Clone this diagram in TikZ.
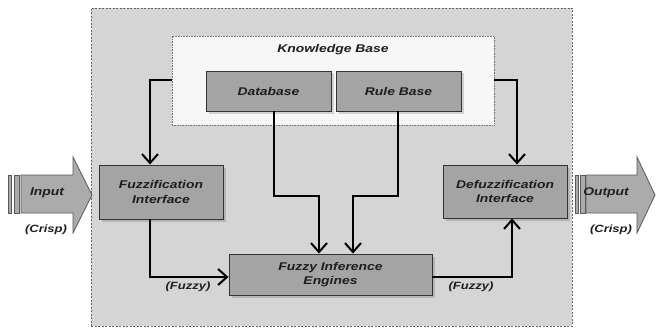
\documentclass[tikz,border=0pt]{standalone}
\usepackage{fontspec}
\newfontfamily\lab{Liberation Sans}[FakeStretch=1.24]
\usetikzlibrary{arrows.meta,calc,shadows}
\definecolor{bgc}{HTML}{D5D5D5}
\definecolor{boxc}{HTML}{A4A4A4}
\definecolor{kbc}{HTML}{F7F7F7}
\definecolor{txtc}{HTML}{1E1E1E}
\tikzset{
  txt/.style={font=\lab\bfseries\itshape\fontsize{11.2}{14.3}\selectfont, text=txtc, align=center, inner sep=0pt},
  small/.style={font=\lab\bfseries\itshape\fontsize{10.5}{12}\selectfont, text=txtc, inner sep=0pt},
  blk/.style={draw=black!80, line width=0.9pt, fill=boxc, inner sep=0pt,
    drop shadow={shadow xshift=2.5pt, shadow yshift=-2.5pt, fill=black, opacity=0.15},
    font=\lab\bfseries\itshape\fontsize{11.2}{14.3}\selectfont, text=txtc, align=center},
  conn/.style={line width=2pt, black, -{Straight Barb[length=9pt,width=16pt]}},
  bigarr/.style={draw=black!65, line width=0.8pt, fill=black!33, line join=miter},
  strip/.style={draw=black!65, line width=0.8pt, fill=black!33}
}
\begin{document}
\begin{tikzpicture}[x=1pt,y=-1pt]
\useasboundingbox (0,0) rectangle (656,329);
% outer system box
\node[draw=black!60, dashed, dash pattern=on 2pt off 1.5pt, line width=0.7pt, fill=bgc,
  minimum width=481pt, minimum height=318pt, inner sep=0pt] (sys) at (331.5,167) {};
% knowledge base
\node[draw=black!55, dash pattern=on 0.8pt off 0.8pt, line width=0.7pt, fill=kbc,
  minimum width=322pt, minimum height=89pt, inner sep=0pt] (kb) at (333,80.5) {};
\node[txt] (kbt) at (333,50) {Knowledge Base};
\node[blk, minimum width=125pt, minimum height=40pt] (db) at (268.5,91) {Database};
\node[blk, minimum width=125pt, minimum height=40pt] (rb) at (398.5,91) {Rule Base};
\node[blk, minimum width=124pt, minimum height=54pt] (fuzz) at (161,192) {Fuzzification\\Interface};
\node[blk, minimum width=124pt, minimum height=53pt] (defuzz) at (505,191.5) {Defuzzification\\Interface};
\node[blk, minimum width=203pt, minimum height=41pt] (fie) at (330.5,274.5) {Fuzzy Inference\\Engines};
% connectors
\draw[conn] (kb.west) -| ($(fuzz.north)+(-11,0)$);
\draw[conn] (kb.east) -| ($(defuzz.north)+(12,0)$);
\draw[conn] ($(db.south)+(5.5,0)$) |- ($(fie.north)+(-11.5,-58)$) -- ($(fie.north)+(-11.5,0)$);
\draw[conn] ($(rb.south)+(-0.5,0)$) |- ($(fie.north)+(22.5,-58)$) -- ($(fie.north)+(22.5,0)$);
\draw[conn] ($(fuzz.south)+(-11,0)$) |- ($(fie.west)+(0,2.5)$);
\draw[conn] ($(fie.east)+(0,2.5)$) -| ($(defuzz.south)+(7,0)$);
\node[small] (fz1) at (188,287) {(Fuzzy)};
\node[small] (fz2) at (471,287) {(Fuzzy)};
% input arrow
\draw[strip] (8,175) rectangle (11,213);
\draw[strip] (14,175) rectangle (19.5,213);
\draw[bigarr] (21,175) -- (73,175) -- (73,157) -- (92,195) -- (73,233) -- (73,213) -- (21,213) -- cycle;
\node[txt] (inp) at (47,193) {Input};
\node[small] (cr1) at (46,230) {(Crisp)};
% output arrow
\draw[strip] (575,175) rectangle (578,213);
\draw[strip] (580.5,175) rectangle (585,213);
\draw[bigarr] (586,175) -- (637,175) -- (637,157) -- (655,195) -- (637,233) -- (637,213) -- (586,213) -- cycle;
\node[txt] (outp) at (606,193) {Output};
\node[small] (cr2) at (611,230) {(Crisp)};
\end{tikzpicture}
\end{document}
